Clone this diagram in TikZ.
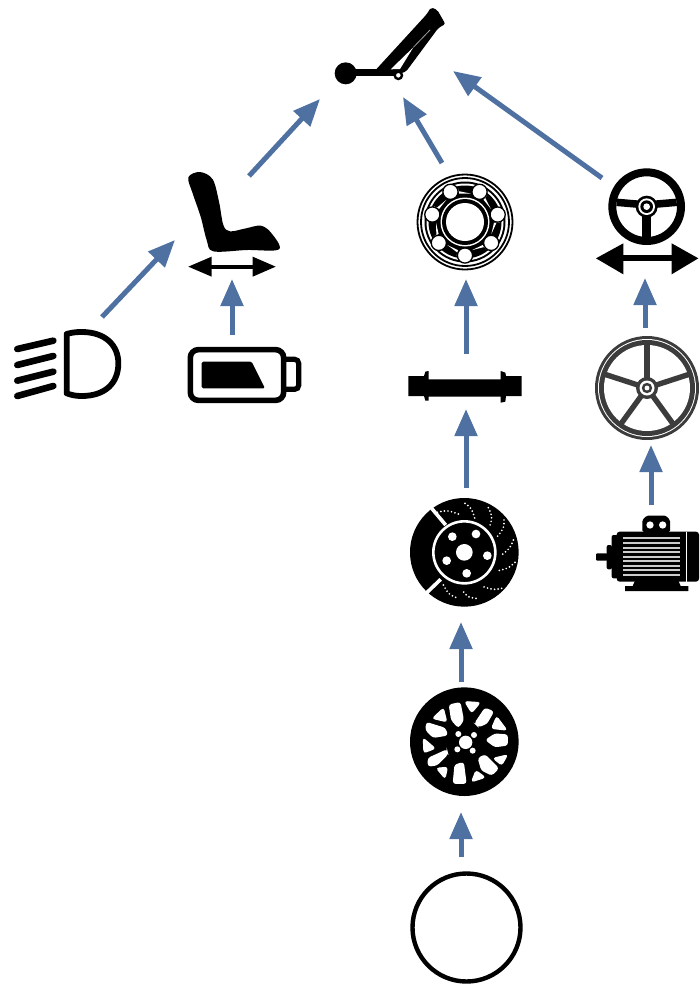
\documentclass[tikz,border=0pt]{standalone}
\usetikzlibrary{arrows.meta}
\definecolor{flowblue}{HTML}{4F71A2}
\definecolor{spoke}{HTML}{3C3C3C}
\tikzset{
  flow/.style={draw=flowblue,line width=5pt,-{Triangle[length=27pt,width=22pt,fill=flowblue]}},
  ink/.style={fill=black,draw=none},
  inkline/.style={draw=black,line cap=butt},
  hole/.style={fill=white,draw=none},
  zoomed/.style={shift={#1},scale=1/3},
  dots/.style={draw=white,line width=1.9pt,line cap=round,dash pattern=on 0pt off 3.6pt},
}
\begin{document}
\begin{tikzpicture}[x=1pt,y=-1pt]
\useasboundingbox (0,0) rectangle (699,985);
\fill[white] (0,0) rectangle (699,985);

% ---------- lever (top)
\begin{scope}[zoomed={(320,0)}]
  \fill[ink] (77,220) circle (33);
  \draw[inkline,line width=6.5pt] (100,218) -- (228,218);
  \fill[ink,rounded corners=2pt] (165,212) -- (320,43) -- (333,22) -- (352,30) -- (376,72) -- (355,84) -- (258,215) -- (215,228) -- cycle;
  \fill[hole] (212,208) -- (280,142) -- (240,207) -- cycle;
  \draw[spoke!50!white,line width=0.8pt] (280,142) -- (330,90);
  \draw[black,fill=white,line width=2.4pt] (235,226) circle (11);
\end{scope}

% ---------- seat
\begin{scope}[zoomed={(170,160)}]
  \fill[ink] plot[smooth cycle,tension=0.55] coordinates {
    (55,52) (90,36) (128,58) (147,125) (160,195) (180,214) (228,205) (272,197)
    (303,218) (327,268) (230,270) (130,274) (110,240) (92,170) (68,100)};
  \draw[inkline,line width=4pt] (100,320) -- (270,320);
  \fill[ink] (55,320) -- (125,290) -- (125,350) -- cycle;
  \fill[ink] (317,320) -- (248,290) -- (248,350) -- cycle;
  % battery
  \draw[inkline,line width=5.6pt,rounded corners=8pt] (61,569) rectangle (341,721);
  \draw[inkline,line width=5.2pt,rounded corners=4pt] (341,598) -- (386,598) -- (386,688) -- (341,688);
  \fill[ink,rounded corners=1.5pt] (95,605) -- (245,605) -- (285,685) -- (95,685) -- cycle;
\end{scope}

% ---------- headlight
\begin{scope}[zoomed={(0,320)}]
  \draw[inkline,line width=5.8pt,line join=round] (200,42) -- (200,220)
     .. controls (215,225) and (225,228) .. (245,228)
     .. controls (315,228) and (355,190) .. (355,130)
     .. controls (355,75) and (315,36) .. (245,36)
     .. controls (225,36) and (215,38) .. (200,42) -- cycle;
  \draw[inkline,line width=6.6pt,line cap=round] (52,87) -- (160,62);
  \draw[inkline,line width=6.6pt,line cap=round] (52,135) -- (160,108);
  \draw[inkline,line width=6.6pt,line cap=round] (52,182) -- (160,155);
  \draw[inkline,line width=6.6pt,line cap=round] (52,228) -- (160,198);
\end{scope}

% ---------- bearing
\begin{scope}[shift={(465,222)}]
  \draw[black,line width=1.8pt] (0,0) circle (47.5);
  \draw[black,line width=1.8pt] (0,0) circle (44);
  \fill[ink] (0,0) circle (40.5);
  \fill[hole] (0,0) circle (38.5);
  \fill[ink] (0,0) circle (36.5);
  \foreach \a in {0,1,...,6} {
    \fill[hole] ({90+51.43*\a+14}:29) -- ({90+51.43*\a+14}:34.5) arc[start angle={90+51.43*\a+14},end angle={90+51.43*\a+37.4},radius=-34.5] -- ({90+51.43*\a+37.4}:29) -- cycle;
  }
  \foreach \a in {0,1,...,6} {
    \draw[black,fill=white,line width=1.3pt] ({90+51.43*\a}:33.5) circle (7.6);
  }
  \fill[ink] (0,0) circle (26.5);
  \fill[hole] (0,0) circle (24.5);
  \fill[ink] (0,0) circle (23);
  \fill[hole] (0,0) circle (19);
\end{scope}

% ---------- axle
\begin{scope}[zoomed={(400,170)}]
  \fill[ink] (25,618) -- (72,618) -- (76,605) -- (86,603) -- (86,628) -- (302,628) -- (302,603) -- (316,608) -- (318,618) -- (365,618) -- (365,678) -- (318,678) -- (316,695) -- (302,698) -- (302,680) -- (86,680) -- (86,692) -- (76,692) -- (72,678) -- (25,678) -- cycle;
\end{scope}

% ---------- brake disc
\begin{scope}[zoomed={(400,490)}]
  \fill[ink] (193,187) circle (163);
  \draw[white,line width=3.6pt] (95,55) -- (137,105);
  \draw[white,line width=3.6pt] (72,316) -- (122,268);
  \fill[ink] (193,187) circle (96);
  \draw[white,line width=2.6pt] (193,187) circle (93);
  \fill[hole] (193,187) circle (25);
  \foreach \p in {(157,140),(228,132),(262,197),(200,250),(140,212)} \fill[hole] \p circle (13);
  \draw[dots] (112,67) .. controls (140,60) .. (175,72);
  \draw[dots] (195,40) .. controls (215,55) .. (225,87);
  \draw[dots] (265,53) .. controls (278,80) .. (268,112);
  \draw[dots] (312,90) .. controls (312,115) .. (290,142);
  \draw[dots] (340,150) .. controls (330,175) .. (305,195);
  \draw[dots] (345,217) .. controls (325,235) .. (295,242);
  \draw[dots] (305,295) .. controls (280,300) .. (250,290);
  \draw[dots] (228,325) .. controls (205,322) .. (190,305);
  \draw[dots] (167,322) .. controls (145,312) .. (130,285);
\end{scope}

% ---------- alloy rim
\begin{scope}[zoomed={(400,680)}]
  \fill[ink] (193,185) circle (163);
  \begin{scope}[every path/.style={fill=white,draw=white,line width=1.2pt,rounded corners=2.5pt}]
    \path (195,65) -- (240,68) -- (215,98) -- cycle;
    \path (148,75) -- (180,68) -- (190,120) -- (175,142) -- (155,120) -- cycle;
    \path (130,85) -- (140,125) -- (98,115) -- cycle;
    \path (80,128) -- (135,145) -- (142,165) -- (100,172) -- (78,150) -- cycle;
    \path (70,175) -- (105,205) -- (72,218) -- cycle;
    \path (85,235) -- (140,210) -- (143,222) -- (110,255) -- (85,258) -- cycle;
    \path (110,265) -- (142,262) -- (135,295) -- cycle;
    \path (165,255) -- (190,248) -- (198,310) -- (160,310) -- cycle;
    \path (215,305) -- (228,272) -- (255,292) -- cycle;
    \path (235,235) -- (255,225) -- (295,265) -- (275,285) -- (245,270) -- cycle;
    \path (280,235) -- (322,225) -- (305,255) -- cycle;
    \path (258,180) -- (285,162) -- (322,165) -- (322,195) -- (285,200) -- cycle;
    \path (275,145) -- (290,110) -- (320,150) -- cycle;
    \path (225,130) -- (255,85) -- (280,95) -- (260,130) -- (235,140) -- cycle;
  \end{scope}
  \fill[hole] (197,187) circle (20);
  \foreach \p in {(175,162),(222,165),(172,208),(218,212)} \fill[hole] \p circle (9);
\end{scope}

% ---------- steering wheel and its arrow
\begin{scope}[zoomed={(590,160)}]
  \draw[inkline,line width=8pt] (170,140) circle (103);
  \draw[inkline,line width=7.5pt] (80,127) -- (150,133);
  \draw[inkline,line width=7.5pt] (260,127) -- (190,133);
  \draw[inkline,line width=9pt] (170,160) -- (170,240);
  \fill[ink] (170,140) circle (33);
  \fill[hole] (170,140) circle (25);
  \fill[ink] (170,140) circle (19);
  \fill[hole] (170,140) circle (10);
  \draw[inkline,line width=6pt] (80,295) -- (260,295);
  \fill[ink] (18,295) -- (100,250) -- (100,343) -- cycle;
  \fill[ink] (325,295) -- (245,250) -- (245,343) -- cycle;
\end{scope}

% ---------- spoked wheel
\begin{scope}[shift={(647,388)}]
  \fill[spoke] (0,0) circle (52);
  \fill[hole] (0,0) circle (49);
  \fill[spoke] (0,0) circle (48);
  \fill[hole] (0,0) circle (43);
  \foreach \a in {90,162,234,306,18} {
    \draw[spoke,line width=5.4pt] (0,0) -- (-\a:45);
  }
  \fill[spoke] (0,0) circle (11);
  \fill[hole] (0,0) circle (7.5);
  \fill[spoke] (0,0) circle (5.2);
  \fill[hole] (0,0) circle (2.4);
\end{scope}

% ---------- motor
\begin{scope}[zoomed={(590,510)}]
  \fill[ink,rounded corners=3pt] (80,65) rectangle (327,215);
  \fill[ink,rounded corners=2pt] (65,75) rectangle (84,205);
  \fill[ink,rounded corners=2pt] (50,105) rectangle (66,178);
  \fill[ink,rounded corners=1pt] (18,130) rectangle (52,152);
  \fill[ink] (135,212) -- (265,212) -- (272,228) -- (295,228) -- (295,243) -- (105,243) -- (105,228) -- (128,228) -- cycle;
  \fill[ink,rounded corners=1.5pt] (157,66) -- (157,30) -- (170,17) -- (228,17) -- (240,30) -- (240,66) -- cycle;
  \fill[hole] (180,45) circle (11);
  \fill[hole] (218,45) circle (11);
  \draw[white,line width=1.2pt] (290,65) -- (290,215);
  \foreach \y in {85,99,113,127,140,153,167,181,195}
    \draw[draw=white!80!black,line width=2.1pt] (100,\y) -- (270,\y);
\end{scope}

% ---------- tyre
\node[circle,draw=black,line width=4.4pt,minimum size=108pt,inner sep=0pt] (tyre) at (466.5,927.5) {};

% ---------- connector ends
\coordinate (lampOut) at (102,317);   \coordinate (seatIn) at (175,240);
\coordinate (seatOut) at (249,176);   \coordinate (leverA) at (320,99);
\coordinate (bearOut) at (442,163);   \coordinate (leverB) at (403,97);
\coordinate (steerOut) at (602,178);  \coordinate (leverC) at (453,71);
\coordinate (battOut) at (232,335);   \coordinate (seatArrowIn) at (232,279);
\coordinate (axleOut) at (466,354);   \coordinate (bearIn) at (466,279);
\coordinate (brakeOut) at (466,488);  \coordinate (axleIn) at (466,409);
\coordinate (rimOut) at (461,682);    \coordinate (brakeIn) at (461,622);
\coordinate (tyreOut) at (461,857);   \coordinate (rimIn) at (461,812);
\coordinate (spokeOut) at (645,328);  \coordinate (steerIn) at (645,278);
\coordinate (motorOut) at (651,505);  \coordinate (spokeIn) at (651,445);

\draw[flow] (lampOut) -- (seatIn);
\draw[flow] (seatOut) -- (leverA);
\draw[flow] (bearOut) -- (leverB);
\draw[flow] (steerOut) -- (leverC);
\draw[flow] (battOut) -- (seatArrowIn);
\draw[flow] (axleOut) -- (bearIn);
\draw[flow] (brakeOut) -- (axleIn);
\draw[flow] (rimOut) -- (brakeIn);
\draw[flow] (tyreOut) -- (rimIn);
\draw[flow] (spokeOut) -- (steerIn);
\draw[flow] (motorOut) -- (spokeIn);
\end{tikzpicture}
\end{document}
